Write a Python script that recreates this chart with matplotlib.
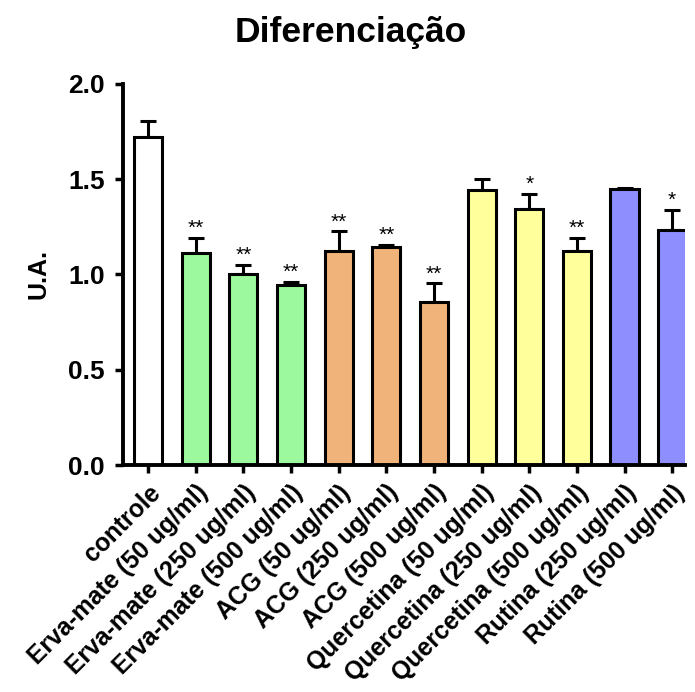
import numpy as np
import matplotlib
matplotlib.use('Agg')
import matplotlib.pyplot as plt

plt.rcParams['font.family'] = ['Liberation Sans', 'DejaVu Sans']

labels = ['controle',
          'Erva-mate (50 ug/ml)', 'Erva-mate (250 ug/ml)', 'Erva-mate (500 ug/ml)',
          'ACG (50 ug/ml)', 'ACG (250 ug/ml)', 'ACG (500 ug/ml)',
          'Quercetina (50 ug/ml)', 'Quercetina (250 ug/ml)', 'Quercetina (500 ug/ml)',
          'Rutina (250 ug/ml)', 'Rutina (500 ug/ml)']
means = [1.72, 1.113, 1.0, 0.942, 1.122, 1.143, 0.856, 1.442, 1.344, 1.124, 1.446, 1.232]
errors = [0.082, 0.079, 0.05, 0.018, 0.103, 0.012, 0.097, 0.056, 0.079, 0.068, 0.005, 0.107]
stars = ['', '**', '**', '**', '**', '**', '**', '', '*', '**', '', '*']
colors = ['#FFFFFF', '#9DF99D', '#9DF99D', '#9DF99D',
          '#F0B47A', '#F0B47A', '#F0B47A',
          '#FFFF9B', '#FFFF9B', '#FFFF9B',
          '#8E8EFF', '#8E8EFF']

x = np.arange(len(labels))

fig = plt.figure(figsize=(6.95, 6.92), dpi=100)
ax = fig.add_axes([0.177, 0.328, 0.808, 0.551])

ax.bar(x, means, width=0.59, color=colors, edgecolor='black', linewidth=2.2, zorder=2)
ax.errorbar(x, means, yerr=[np.zeros(len(means)), errors], fmt='none', ecolor='black',
            elinewidth=2.2, capsize=6, capthick=2.2, zorder=1)

for xi, m, e, s in zip(x, means, errors, stars):
    if s:
        ax.annotate(s, (xi, m + e), xytext=(0, 0), textcoords='offset points',
                    ha='center', va='bottom', fontsize=15)

ax.set_xlim(-0.525, 11.26)
ax.set_ylim(0, 2.0)
ax.set_yticks([0.0, 0.5, 1.0, 1.5, 2.0])
ax.set_yticklabels(['0.0', '0.5', '1.0', '1.5', '2.0'], fontsize=19, fontweight='bold')
ax.set_xticks(x)
ax.set_xticklabels(labels, rotation=45, ha='right', rotation_mode='anchor',
                   fontsize=17.8, fontweight='bold')
ax.tick_params(axis='both', width=2.5, length=6)
ax.tick_params(axis='y', pad=7)
ax.tick_params(axis='x', pad=5)

for side in ['top', 'right']:
    ax.spines[side].set_visible(False)
for side in ['left', 'bottom']:
    ax.spines[side].set_linewidth(2.8)

ax.set_ylabel('U.A.', fontsize=18, fontweight='bold', labelpad=13)
fig.text(0.505, 0.953, 'Diferenciação', ha='center', va='center', fontsize=25.5, fontweight='bold')

plt.savefig('out.png', dpi=100)
